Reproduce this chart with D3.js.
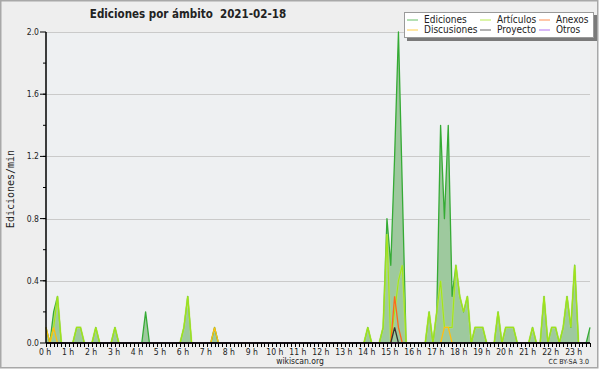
<!DOCTYPE html>
<html>
<head>
<meta charset="utf-8">
<script src="https://cdn.jsdelivr.net/npm/d3@7"></script>
<style>
	body { margin: 0; background: #ffffff; }
	svg text { font-family: "DejaVu Sans Condensed", "DejaVu Sans", sans-serif; font-stretch: condensed; fill: #222; }
</style>
</head>
<body>
<svg id="chart" width="600" height="370"></svg>
<script>
//***************************************************************************
// Data: edits per minute, one value every 10 minutes (0h00 .. 23h40)
// each line below is one hour (6 slots)

var hourLabels = ["0 h","1 h","2 h","3 h","4 h","5 h","6 h","7 h","8 h","9 h","10 h","11 h",
	"12 h","13 h","14 h","15 h","16 h","17 h","18 h","19 h","20 h","21 h","22 h","23 h"];

var yTicks = [0.0, 0.4, 0.8, 1.2, 1.6, 2.0];

var ediciones = [
	0.1,0,0.2,0.3,0,0,      0,0,0.1,0.1,0,0,        0,0.1,0,0,0,0,          0.1,0,0,0,0,0,
	0,0,0.2,0,0,0,          0,0,0,0,0,0,            0.1,0.3,0,0,0,0,        0,0,0.1,0,0,0,
	0,0,0,0,0,0,            0,0,0,0,0,0,            0,0,0,0,0,0,            0,0,0,0,0,0,
	0,0,0,0,0,0,            0,0,0,0,0,0,            0.1,0,0,0,0.1,0.8,      0.5,1.2,2.0,1.0,0,0,
	0,0,0,0,0.2,0,          0.2,1.4,0.8,1.4,0.3,0.5, 0.3,0.2,0.3,0,0.1,0.1, 0.1,0,0,0,0.2,0,
	0.1,0.1,0.1,0,0,0,      0,0.1,0,0,0.3,0,        0.1,0.1,0,0.1,0.3,0.1,  0.5,0,0,0,0.1
];

var articulos = [
	0,0,0.1,0.3,0,0,        0,0,0.1,0.1,0,0,        0,0.1,0,0,0,0,          0.1,0,0,0,0,0,
	0,0,0,0,0,0,            0,0,0,0,0,0,            0.1,0.3,0,0,0,0,        0,0,0,0,0,0,
	0,0,0,0,0,0,            0,0,0,0,0,0,            0,0,0,0,0,0,            0,0,0,0,0,0,
	0,0,0,0,0,0,            0,0,0,0,0,0,            0.1,0,0,0,0.1,0.7,      0,0.2,0.4,0.5,0,0,
	0,0,0,0,0.2,0,          0.2,0.4,0.1,0.1,0.1,0.5, 0.3,0.2,0.3,0,0.1,0.1, 0.1,0,0,0,0.2,0,
	0.1,0.1,0.1,0,0,0,      0,0.1,0,0,0.3,0,        0.1,0.1,0,0.1,0.3,0.1,  0.5,0,0,0,0
];

var discusiones = [
	0.1,0,0.1,0,0,0,        0,0,0,0,0,0,            0,0,0,0,0,0,            0,0,0,0,0,0,
	0,0,0,0,0,0,            0,0,0,0,0,0,            0,0,0,0,0,0,            0,0,0.1,0,0,0,
	0,0,0,0,0,0,            0,0,0,0,0,0,            0,0,0,0,0,0,            0,0,0,0,0,0,
	0,0,0,0,0,0,            0,0,0,0,0,0,            0,0,0,0,0,0,            0,0,0,0,0,0,
	0,0,0,0,0,0,            0,0,0.1,0.1,0,0,        0,0,0,0,0,0,            0,0,0,0,0,0,
	0,0,0,0,0,0,            0,0,0,0,0,0,            0,0,0,0,0,0,            0,0,0,0,0
];

var anexos = [
	0,0,0,0,0,0,            0,0,0,0,0,0,            0,0,0,0,0,0,            0,0,0,0,0,0,
	0,0,0,0,0,0,            0,0,0,0,0,0,            0,0,0,0,0,0,            0,0,0,0,0,0,
	0,0,0,0,0,0,            0,0,0,0,0,0,            0,0,0,0,0,0,            0,0,0,0,0,0,
	0,0,0,0,0,0,            0,0,0,0,0,0,            0,0,0,0,0,0,            0,0.3,0.1,0,0,0,
	0,0,0,0,0,0,            0,0,0,0,0,0,            0,0,0,0,0,0,            0,0,0,0,0,0,
	0,0,0,0,0,0,            0,0,0,0,0,0,            0,0,0,0,0,0,            0,0,0,0,0
];

var proyecto = [
	0,0,0,0,0,0,            0,0,0,0,0,0,            0,0,0,0,0,0,            0,0,0,0,0,0,
	0,0,0,0,0,0,            0,0,0,0,0,0,            0,0,0,0,0,0,            0,0,0,0,0,0,
	0,0,0,0,0,0,            0,0,0,0,0,0,            0,0,0,0,0,0,            0,0,0,0,0,0,
	0,0,0,0,0,0,            0,0,0,0,0,0,            0,0,0,0,0,0,            0,0.1,0,0,0,0,
	0,0,0,0,0,0,            0,0,0,0,0,0,            0,0,0,0,0,0,            0,0,0,0,0,0,
	0,0,0,0,0,0,            0,0,0,0,0,0,            0,0,0,0,0,0,            0,0,0,0,0
];

var otros = ediciones.map(function() { return 0; });

var legendNames = ["Ediciones", "Artículos", "Anexos", "Discusiones", "Proyecto", "Otros"];

//***************************************************************************
// Layout

var svg = d3.select("#chart");
var W = 600, H = 370;

var x = d3.scaleLinear().domain([0, ediciones.length - 1]).range([46, 590]);
var y = d3.scaleLinear().domain([0, 2.0]).range([343, 32]);

var colors = {
	ediciones: "#35ab35",
	articulos: "#a2e418",
	anexos: "#ff6a1a",
	discusiones: "#ffbf10",
	proyecto: "#333333",
	otros: "#9944ee"
};

// background + frame
svg.append("rect").attr("x", 0).attr("y", 0).attr("width", W).attr("height", H).attr("fill", "#ffffff");
svg.append("rect")
	.attr("x", 0.75).attr("y", 0.75).attr("width", 597).attr("height", 367)
	.attr("fill", "#eeeeee").attr("stroke", "#a8a8a8").attr("stroke-width", 1.5);
svg.append("rect")
	.attr("x", x(0)).attr("y", y(2.0)).attr("width", x(142) - x(0)).attr("height", y(0) - y(2.0))
	.attr("fill", "#eef0f2");

// grid
svg.append("g").selectAll("line")
	.data(yTicks.filter(function(d) { return d > 0; }))
	.enter().append("line")
	.attr("x1", x(0)).attr("x2", x(142))
	.attr("y1", function(d) { return Math.round(y(d)) + 0.5; })
	.attr("y2", function(d) { return Math.round(y(d)) + 0.5; })
	.attr("stroke", "#cacaca").attr("stroke-width", 1);

//***************************************************************************
// Series

var area = d3.area()
	.x(function(d, i) { return x(i); })
	.y0(y(0))
	.y1(function(d) { return y(d); });

var line = d3.line()
	.x(function(d, i) { return x(i); })
	.y(function(d) { return y(d); });

svg.append("path").datum(ediciones)
	.attr("d", area).attr("fill", "#9ec99e");

svg.append("path").datum(ediciones)
	.attr("d", line).attr("fill", "none")
	.attr("stroke", colors.ediciones).attr("stroke-width", 1.3).attr("stroke-linejoin", "round");

// articulos gets a soft halo, like the original
svg.append("path").datum(articulos)
	.attr("d", line).attr("fill", "none")
	.attr("stroke", "#c8f060").attr("stroke-opacity", 0.5).attr("stroke-width", 2.2);
svg.append("path").datum(articulos)
	.attr("d", line).attr("fill", "none")
	.attr("stroke", colors.articulos).attr("stroke-width", 1.1);

var others = [
	[discusiones, colors.discusiones],
	[anexos, colors.anexos],
	[otros, colors.otros],
	[proyecto, colors.proyecto]
];
for (var k = 0; k < others.length; ++k) {
	svg.append("path").datum(others[k][0])
		.attr("d", line).attr("fill", "none")
		.attr("stroke", others[k][1]).attr("stroke-width", 1.3);
}

//***************************************************************************
// Axes

var xTicks = d3.range(0, ediciones.length);
var xAxis = svg.append("g").attr("transform", "translate(0," + y(0) + ")");
xAxis.append("line").attr("x1", x(0)).attr("x2", x(142)).attr("stroke", "#000").attr("stroke-width", 1.5);
xAxis.selectAll("line.tick")
	.data(xTicks).enter().append("line")
	.attr("class", "tick")
	.attr("x1", function(d) { return Math.round(x(d)) + 0.5; })
	.attr("x2", function(d) { return Math.round(x(d)) + 0.5; })
	.attr("y1", 0).attr("y2", 4)
	.attr("stroke", "#000").attr("stroke-width", 1);
xAxis.selectAll("text")
	.data(hourLabels).enter().append("text")
	.attr("x", function(d, i) { return x(i * 6) - 1; })
	.attr("y", 12)
	.attr("text-anchor", "middle")
	.attr("font-size", "8.5px")
	.text(function(d) { return d; });

var yAxis = svg.append("g").attr("transform", "translate(" + x(0) + ",0)");
yAxis.append("line").attr("y1", y(0)).attr("y2", y(2.0)).attr("stroke", "#000").attr("stroke-width", 1.5);
yAxis.selectAll("line.minor")
	.data(d3.range(1, 10).map(function(d) { return d * 0.2; }))
	.enter().append("line")
	.attr("class", "minor")
	.attr("x1", -3).attr("x2", 0)
	.attr("y1", function(d) { return y(d); }).attr("y2", function(d) { return y(d); })
	.attr("stroke", "#000");
yAxis.selectAll("line.major")
	.data(yTicks).enter().append("line")
	.attr("class", "major")
	.attr("x1", -6).attr("x2", 0)
	.attr("y1", function(d) { return y(d); }).attr("y2", function(d) { return y(d); })
	.attr("stroke", "#000");
yAxis.selectAll("text")
	.data(yTicks).enter().append("text")
	.attr("x", -7)
	.attr("y", function(d) { return y(d) + 3; })
	.attr("text-anchor", "end")
	.attr("font-size", "8.5px")
	.text(function(d) { return d.toFixed(1); });

//***************************************************************************
// Texts

svg.append("text")
	.attr("x", 188).attr("y", 18)
	.attr("text-anchor", "middle")
	.attr("font-size", "11.5px").attr("font-weight", "bold")
	.attr("xml:space", "preserve")
	.text("Ediciones por ámbito  2021-02-18");

svg.append("text")
	.attr("transform", "translate(14,189) rotate(-90)")
	.attr("text-anchor", "middle")
	.style("font-family", "'DejaVu Sans Mono', monospace")
	.attr("font-size", "10px")
	.text("Ediciones/min");

svg.append("text")
	.attr("x", 300).attr("y", 364)
	.attr("text-anchor", "middle")
	.attr("font-size", "8.5px")
	.text("wikiscan.org");

svg.append("text")
	.attr("x", 589).attr("y", 364)
	.attr("text-anchor", "end")
	.attr("font-size", "7px")
	.text("CC BY-SA 3.0");

//***************************************************************************
// Legend

var legend = svg.append("g");
legend.append("rect")
	.attr("x", 407).attr("y", 15).attr("width", 190).attr("height", 26)
	.attr("fill", "#7a7a7a");
legend.append("rect")
	.attr("x", 404.5).attr("y", 12.5).attr("width", 189).attr("height", 25)
	.attr("fill", "#ffffff").attr("stroke", "#9a9a9a");

var legendColors = [colors.ediciones, colors.articulos, colors.anexos, colors.discusiones, colors.proyecto, colors.otros];
var colX = [407, 480, 539];
var rowY = [19.5, 29.5];

var item = legend.selectAll("g.item")
	.data(legendNames).enter().append("g")
	.attr("class", "item")
	.attr("transform", function(d, i) {
		return "translate(" + colX[i % 3] + "," + rowY[Math.floor(i / 3)] + ")";
	});
item.append("line")
	.attr("x1", 0).attr("x2", 11).attr("y1", 0.5).attr("y2", 0.5)
	.attr("stroke", function(d, i) { return legendColors[i]; })
	.attr("stroke-opacity", 0.75);
item.append("text")
	.attr("x", 17).attr("y", 3.5)
	.attr("font-size", "10px")
	.text(function(d) { return d; });
</script>
</body>
</html>
